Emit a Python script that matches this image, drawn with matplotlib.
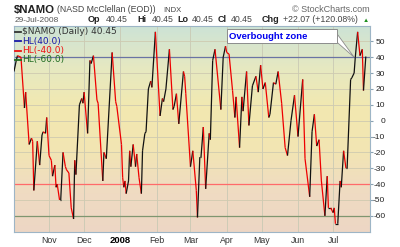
import numpy as np
import pandas as pd
import matplotlib
matplotlib.use('Agg')
import matplotlib.pyplot as plt
import matplotlib.dates as mdates
from matplotlib.collections import LineCollection
from matplotlib.lines import Line2D
from matplotlib.patches import Polygon, Rectangle
from matplotlib.transforms import IdentityTransform

plt.rcParams['font.family'] = 'Liberation Sans'

# --- data (turning points of $NAMO, daily) ---
dates = [
    '2007-10-02', '2007-10-04', '2007-10-05', '2007-10-08', '2007-10-11', '2007-10-12',
    '2007-10-15', '2007-10-17', '2007-10-18', '2007-10-19', '2007-10-22', '2007-10-24',
    '2007-10-26', '2007-10-27', '2007-10-29', '2007-10-30', '2007-11-01', '2007-11-03',
    '2007-11-04', '2007-11-06', '2007-11-07', '2007-11-08', '2007-11-10', '2007-11-11',
    '2007-11-13', '2007-11-15', '2007-11-16', '2007-11-18', '2007-11-20', '2007-11-22',
    '2007-11-23', '2007-11-24', '2007-11-27', '2007-11-29', '2007-11-30', '2007-12-01',
    '2007-12-04', '2007-12-06', '2007-12-07', '2007-12-09', '2007-12-12', '2007-12-13',
    '2007-12-17', '2007-12-18', '2007-12-20', '2007-12-25', '2007-12-28', '2007-12-29',
    '2008-01-02', '2008-01-03', '2008-01-04', '2008-01-05', '2008-01-06', '2008-01-08',
    '2008-01-09', '2008-01-10', '2008-01-12', '2008-01-14', '2008-01-15', '2008-01-17',
    '2008-01-19', '2008-01-20', '2008-01-22', '2008-01-23', '2008-01-25', '2008-01-27',
    '2008-01-28', '2008-01-31', '2008-02-04', '2008-02-06', '2008-02-07', '2008-02-09',
    '2008-02-12', '2008-02-15', '2008-02-16', '2008-02-18', '2008-02-20', '2008-02-24',
    '2008-02-25', '2008-02-26', '2008-03-01', '2008-03-03', '2008-03-06', '2008-03-07',
    '2008-03-09', '2008-03-10', '2008-03-12', '2008-03-14', '2008-03-17', '2008-03-18',
    '2008-03-20', '2008-03-22', '2008-03-27', '2008-03-29', '2008-03-31', '2008-04-01',
    '2008-04-03', '2008-04-06', '2008-04-08', '2008-04-09', '2008-04-12', '2008-04-14',
    '2008-04-15', '2008-04-18', '2008-04-20', '2008-04-23', '2008-04-26', '2008-04-28',
    '2008-04-30', '2008-05-02', '2008-05-04', '2008-05-07', '2008-05-08', '2008-05-11',
    '2008-05-13', '2008-05-15', '2008-05-18', '2008-05-21', '2008-05-23', '2008-05-26',
    '2008-05-29', '2008-06-01', '2008-06-05', '2008-06-07', '2008-06-11', '2008-06-13',
    '2008-06-15', '2008-06-17', '2008-06-19', '2008-06-21', '2008-06-24', '2008-06-26',
    '2008-06-27', '2008-06-29', '2008-07-01', '2008-07-02', '2008-07-03', '2008-07-05',
    '2008-07-07', '2008-07-08', '2008-07-10', '2008-07-12', '2008-07-13', '2008-07-16',
    '2008-07-17', '2008-07-19', '2008-07-20', '2008-07-22', '2008-07-24', '2008-07-26',
    '2008-07-27', '2008-07-29',
]
namo = [
    31, 38, 41, 40, 8, 18,
    -15, -11, -13, -44, -13, -28,
    -9, -7, -8, 2, -22, -25,
    -35, -28, -42, -40, -50, -50,
    -20, -29, -31, -33, -55, -62,
    -25, -34, 10, 14, 11, 18,
    -8, 38, 36, 41, 13, 11,
    -38, -20, -24, 43, 12, 9,
    -15, -36, -42, -38, -46, -38,
    -19, -29, -15, -29, -21, -36,
    -46, -19, -8, -7, 20, 25,
    21, 56, 3, 14, 12, 20,
    45, 7, 9, 17, -2, 31,
    28, 17, -29, -19, -44, -61,
    -23, -23, -4, -43, -8, -12,
    38, 45, 7, 40, 47, 43,
    42, 19, 2, 15, -17, 15,
    6, 31, -3, 22, 28, 18,
    35, 20, 24, 2, 4, 24,
    23, 31, 11, -17, -22, 0,
    16, -10, 26, -24, -48, -7,
    4, -16, -12, -38, -60, -35,
    -55, -55, -58, -55, -65, -65,
    -38, -42, -19, -30, -30, 26,
    27, 30, 40, 56, 41, 45,
    19, 40.45,
]

hl_levels = [40.0, -40.0, -60.0]
hl_line_colors = ['#6a74a4', '#ff6a6a', '#7f9670']
hl_text_colors = ['#1a1aa8', '#ee1111', '#1f6b1f']
hl_labels = ['HL(40.0)', 'HL(-40.0)', 'HL(-60.0)']

month_starts = ['2007-11-01', '2007-12-01', '2008-01-01', '2008-02-01', '2008-03-01',
                '2008-04-01', '2008-05-01', '2008-06-01', '2008-07-01']
month_labels = ['Nov', 'Dec', '2008', 'Feb', 'Mar', 'Apr', 'May', 'Jun', 'Jul']
y_ticks = [-60, -50, -40, -30, -20, -10, 0, 10, 20, 30, 40, 50]

W, H = 400, 247
fig = plt.figure(figsize=(W / 100, H / 100), dpi=100)
ax = fig.add_axes([14 / W, 1 - 232 / H, 356 / W, 206 / H])


def px(x, y):
    return x / W, 1 - y / H


# background gradient (green top -> yellow middle -> peach bottom)
stops = np.array([
    [0.80, 0.89, 0.84],
    [0.90, 0.91, 0.76],
    [0.95, 0.91, 0.69],
    [0.95, 0.90, 0.70],
    [0.94, 0.86, 0.76],
    [0.93, 0.84, 0.77],
])
pos = np.linspace(0, 1, len(stops))
t = np.linspace(0, 1, 256)
grad = np.stack([np.interp(t, pos, stops[:, k]) for k in range(3)], axis=1)[:, None, :]
ax.imshow(grad, extent=[0, 1, 0, 1], transform=ax.transAxes, aspect='auto', zorder=0)

xd = mdates.date2num(pd.to_datetime(dates))
yv = np.array(namo, dtype=float)

ax.set_xlim(mdates.date2num(pd.Timestamp('2007-10-02 01:00')),
            mdates.date2num(pd.Timestamp('2008-08-01 14:00')))
ax.set_ylim(-70.2, 59.7)

# grid
for m in month_starts:
    ax.axvline(mdates.date2num(pd.Timestamp(m)), color='#c9c9b4', lw=0.6, zorder=1)
for v in y_ticks:
    ax.axhline(v, color='#cfcab0', lw=0.6, zorder=1)

for lvl, c in zip(hl_levels, hl_line_colors):
    ax.axhline(lvl, color=c, lw=0.9, zorder=2)

# NAMO line: black on up moves, red on down moves
pts = np.column_stack([xd, yv])
segs = np.stack([pts[:-1], pts[1:]], axis=1)
seg_colors = ['#111111' if yv[i + 1] >= yv[i] else '#ee0000' for i in range(len(yv) - 1)]
ax.add_collection(LineCollection(segs, colors=seg_colors, linewidths=0.9, zorder=3))

# axes styling
for s in ax.spines.values():
    s.set_color('#9db5c6')
    s.set_linewidth(0.8)
ax.yaxis.tick_right()
ax.set_yticks(y_ticks)
ax.set_yticklabels([str(v) for v in y_ticks])
ax.tick_params(axis='y', length=2, color='#8aa3b3', labelsize=6, pad=9, labelcolor='#222222')
for lab in ax.get_yticklabels():
    lab.set_ha('right')
ax.set_xticks([mdates.date2num(pd.Timestamp(m)) for m in month_starts])
ax.set_xticklabels(month_labels)
ax.tick_params(axis='x', length=0, labelsize=6.3, pad=3, labelcolor='#333333')
for lab in ax.get_xticklabels():
    if lab.get_text() == '2008':
        lab.set_fontweight('bold')
        lab.set_color('black')
        lab.set_fontsize(6.8)

# header texts
fig.text(*px(13.5, 12.5), r'\$NAMO', fontsize=8.2, fontweight='bold', color='#222222')
fig.text(*px(57, 12.5), '(NASD McClellan (EOD))', fontsize=6.3, color='#444444')
fig.text(*px(163, 12.5), 'INDX', fontsize=5.5, color='#444444')
fig.text(*px(370, 12), '\u00a9 StockCharts.com', fontsize=6.5, color='#666666', ha='right')
fig.text(*px(15, 22.5), '29-Jul-2008', fontsize=6, color='#555555')
header_items = [(88, 'Op', True), (106, '40.45', False), (137, 'Hi', True), (152, '40.45', False),
                (177, 'Lo', True), (192, '40.45', False), (218, 'Cl', True), (231, '40.45', False),
                (262, 'Chg', True), (283, '+22.07 (+120.08%)', False)]
for hx, txt, bold in header_items:
    fig.text(*px(hx, 22.5), txt, fontsize=6.5 if bold else 6.3,
             fontweight='bold' if bold else 'normal', color='#222222' if bold else '#444444')
fig.text(*px(366, 22), '\u25b2', fontsize=4.5, color='#1f8f1f', ha='center')

# legend
legend_rows = [('$NAMO (Daily) 40.45', '#111111', '#333333')] + \
    list(zip(hl_labels, hl_line_colors, hl_text_colors))
for i, (lab, lc, tc) in enumerate(legend_rows):
    yy = 32 + i * 9.3
    fig.add_artist(Line2D([15 / W, 20.5 / W], [1 - yy / H, 1 - yy / H], color=tc, lw=1.3))
    fig.text(*px(22.5, yy), lab.replace('$', r'\$'), fontsize=6.5, color=tc, va='center',
             family='DejaVu Sans')

# callout: box with a wedge pointing at the 40 line
tip = ax.transData.transform((mdates.date2num(pd.Timestamp('2008-07-19')), hl_levels[0]))
fig.add_artist(Polygon([(335, H - 31), (335, H - 40.5), tuple(tip)], closed=True,
                       transform=IdentityTransform(), fc='white', ec='#8c8c8c', lw=0.6,
                       zorder=3))
fig.add_artist(Rectangle((227, H - 43), 110, 14, transform=IdentityTransform(),
                         fc='white', ec='#8c8c8c', lw=0.7, zorder=4))
fig.text(*px(229, 36), 'Overbought zone', fontsize=6.8, fontweight='bold', color='#0000ee',
         va='center', zorder=5)

fig.savefig('out.png', dpi=100)
